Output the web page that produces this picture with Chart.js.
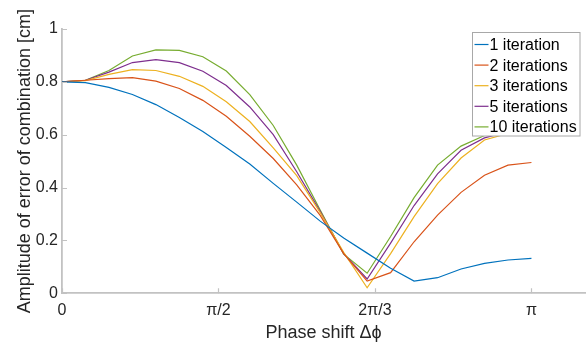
<!DOCTYPE html>
<html>
<head>
<meta charset="utf-8">
<script src="https://cdn.jsdelivr.net/npm/chart.js@4.4.1/dist/chart.umd.min.js"></script>
<style>
  html, body { margin: 0; padding: 0; background: #fff; }
  #wrap { width: 587px; height: 345px; }
</style>
</head>
<body>
<div id="wrap"><canvas id="chart" width="587" height="345"></canvas></div>
<script>
// Phase shift samples (rad), pi/20 steps
const phase = [0, 0.1571, 0.3142, 0.4712, 0.6283, 0.7854, 0.9425, 1.0996, 1.2566, 1.4137,
  1.5708, 1.7279, 1.8850, 2.0420, 2.1991, 2.3562, 2.5133, 2.6704, 2.8274, 2.9845, 3.1416];

const iter1 = [0.800, 0.797, 0.779, 0.752, 0.714, 0.665, 0.612, 0.552, 0.489, 0.416,
  0.345, 0.273, 0.209, 0.152, 0.095, 0.046, 0.059, 0.092, 0.113, 0.126, 0.132];
const iter2 = [0.800, 0.806, 0.812, 0.816, 0.803, 0.775, 0.730, 0.670, 0.594, 0.510,
  0.410, 0.295, 0.150, 0.046, 0.078, 0.195, 0.296, 0.382, 0.447, 0.485, 0.495];
const iter3 = [0.800, 0.805, 0.828, 0.846, 0.843, 0.821, 0.783, 0.725, 0.650, 0.550,
  0.445, 0.305, 0.155, 0.021, 0.150, 0.290, 0.415, 0.512, 0.580, 0.605, 0.615];
const iter5 = [0.800, 0.806, 0.837, 0.873, 0.884, 0.873, 0.840, 0.786, 0.705, 0.600,
  0.460, 0.310, 0.150, 0.054, 0.190, 0.332, 0.452, 0.541, 0.588, 0.612, 0.622];
const iter10 = [0.800, 0.806, 0.843, 0.898, 0.921, 0.919, 0.895, 0.841, 0.752, 0.635,
  0.485, 0.315, 0.148, 0.076, 0.215, 0.362, 0.485, 0.557, 0.597, 0.618, 0.628];

const seriesLabels = ['1 iteration', '2 iterations', '3 iterations', '5 iterations', '10 iterations'];
const seriesColors = ['#0072BD', '#D95319', '#EDB120', '#7E2F8E', '#77AC30'];

// x ticks as labelled in the figure
const xTickValues = [0, 1.0472, 2.0944, 3.1416];
const xTickLabels = ['0', 'π/2', '2π/3', 'π'];
const yTickValues = [0, 0.2, 0.4, 0.6, 0.8, 1];

const axisColor = '#c2c2c2';
const textColor = '#262626';

Chart.defaults.font.family = '"Liberation Sans", Arial, sans-serif';
Chart.defaults.color = textColor;

function toPoints(ys) {
  return phase.map((x, i) => ({ x: x, y: ys[i] }));
}

const allSeries = [iter1, iter2, iter3, iter5, iter10];

// inward tick marks on both axes
const innerTicks = {
  id: 'innerTicks',
  afterDraw(chart) {
    const ctx = chart.ctx;
    const xs = chart.scales.x;
    const ys = chart.scales.y;
    const area = chart.chartArea;
    ctx.save();
    ctx.strokeStyle = axisColor;
    ctx.lineWidth = 1.2;
    ctx.beginPath();
    xTickValues.forEach(v => {
      const px = Math.round(xs.getPixelForValue(v)) + 0.5;
      ctx.moveTo(px, area.bottom);
      ctx.lineTo(px, area.bottom - 5);
    });
    yTickValues.forEach(v => {
      const py = Math.round(ys.getPixelForValue(v)) + 0.5;
      ctx.moveTo(area.left, py);
      ctx.lineTo(area.left + 5, py);
    });
    ctx.stroke();
    ctx.restore();
  }
};

// boxed legend in the upper right, like the matlab one
const boxLegend = {
  id: 'boxLegend',
  afterDraw(chart) {
    const ctx = chart.ctx;
    const left = 472.5, top = 32.5, w = 107.5, h = 103.5;
    ctx.save();
    ctx.fillStyle = '#fff';
    ctx.fillRect(left, top, w, h);
    ctx.strokeStyle = '#a8a8a8';
    ctx.lineWidth = 1;
    ctx.strokeRect(left, top, w, h);
    ctx.font = '16px "Liberation Sans", Arial, sans-serif';
    ctx.textBaseline = 'middle';
    ctx.fillStyle = '#000';
    chart.data.datasets.forEach((ds, i) => {
      const y = top + 12 + i * 20.6;
      ctx.strokeStyle = ds.borderColor;
      ctx.lineWidth = 1.2;
      ctx.beginPath();
      ctx.moveTo(left + 2, y);
      ctx.lineTo(left + 16, y);
      ctx.stroke();
      ctx.fillText(ds.label, left + 17, y + 1);
    });
    ctx.restore();
  }
};

const ctx = document.getElementById('chart');
new Chart(ctx, {
  type: 'line',
  data: {
    datasets: allSeries.map((ys, i) => ({
      label: seriesLabels[i],
      data: toPoints(ys),
      borderColor: seriesColors[i],
      backgroundColor: seriesColors[i],
      borderWidth: 1.2,
      pointRadius: 0,
      tension: 0,
      fill: false
    }))
  },
  options: {
    responsive: false,
    animation: false,
    devicePixelRatio: 1,
    layout: {
      padding: { top: 29, right: 2, left: 0, bottom: 0 }
    },
    plugins: {
      legend: { display: false },
      tooltip: { enabled: false }
    },
    scales: {
      x: {
        type: 'linear',
        min: 0,
        max: 3.5,
        afterBuildTicks: scale => {
          scale.ticks = xTickValues.map(v => ({ value: v }));
        },
        afterFit: scale => { scale.height = 51.7; },
        ticks: {
          autoSkip: false,
          maxRotation: 0,
          padding: 8,
          font: { size: 16 },
          color: textColor,
          callback: (value, index) => xTickLabels[index]
        },
        grid: { display: false, drawTicks: false },
        border: { display: true, color: axisColor, width: 1.8 },
        title: {
          display: true,
          text: 'Phase shift Δϕ',
          font: { size: 18 },
          color: textColor,
          padding: { top: 0, bottom: 1 }
        }
      },
      y: {
        min: 0,
        max: 1,
        afterBuildTicks: scale => {
          scale.ticks = yTickValues.map(v => ({ value: v }));
        },
        afterFit: scale => { scale.width = 62; },
        ticks: {
          padding: 4,
          font: { size: 16 },
          color: textColor,
          callback: v => String(Math.round(v * 10) / 10)
        },
        grid: { display: false, drawTicks: false },
        border: { display: true, color: axisColor, width: 1.8 },
        title: {
          display: true,
          text: 'Amplitude of error of combination [cm]',
          font: { size: 18 },
          color: textColor,
          padding: { top: 14, bottom: 0 }
        }
      }
    }
  },
  plugins: [innerTicks, boxLegend]
});
</script>
</body>
</html>
